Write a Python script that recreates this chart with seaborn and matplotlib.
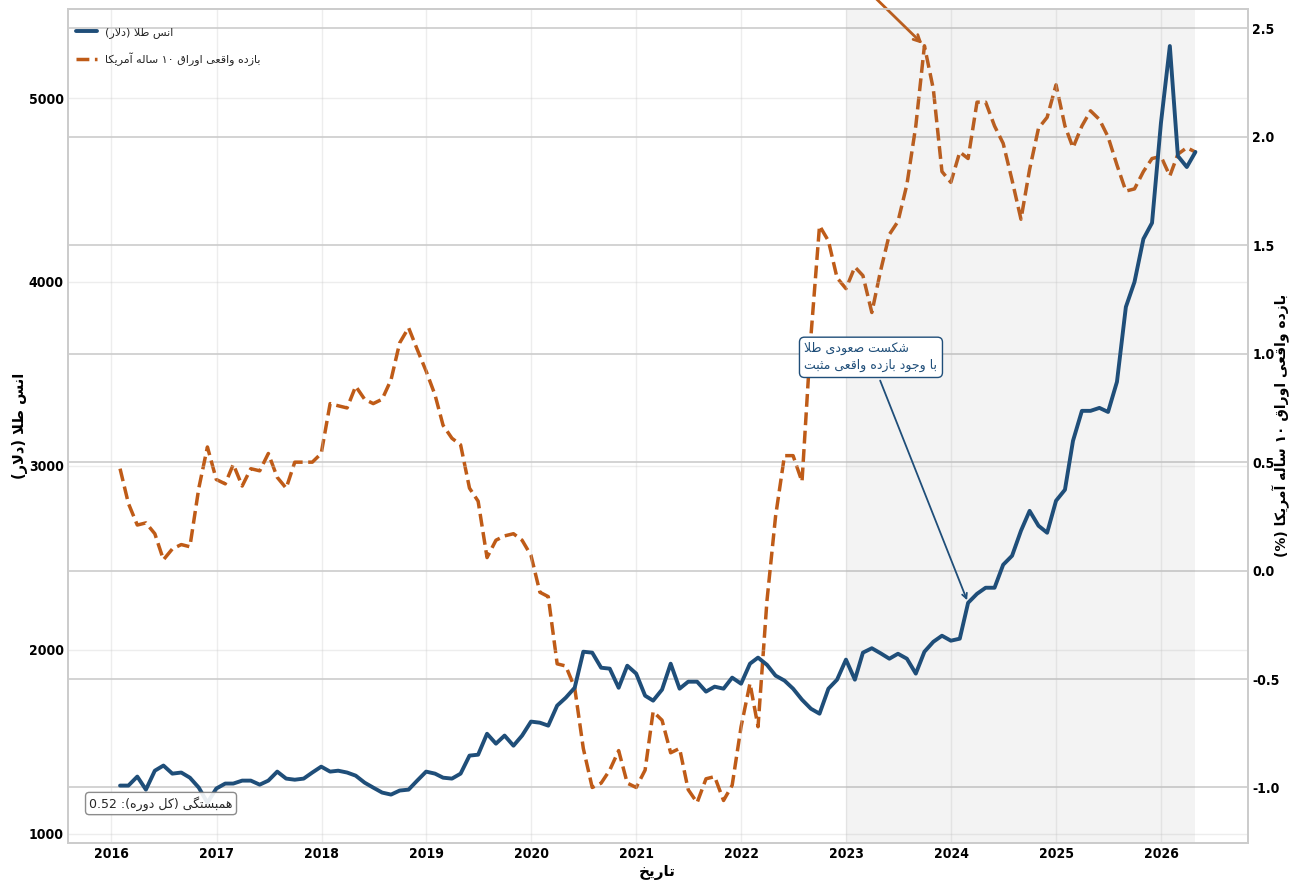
import re
import pandas as pd
import matplotlib
matplotlib.use('Agg')
import matplotlib.pyplot as plt
import matplotlib.dates as mdates
from matplotlib import font_manager
import seaborn as sns

# monthly data, Jan 2016 .. Apr 2026 (month ends)
dates = pd.date_range('2016-01-31', periods=124, freq='ME')

gold_price = [
    1261, 1261, 1310, 1239, 1342, 1370, 1326, 1332, 1304, 1250, 1168, 1245,
    1272, 1272, 1288, 1288, 1266, 1288, 1337, 1299, 1293, 1299, 1332, 1364,
    1337, 1342, 1332, 1315, 1277, 1250, 1223, 1212, 1234, 1239, 1288, 1337,
    1326, 1304, 1299, 1326, 1424, 1429, 1543, 1489, 1533, 1478, 1533, 1609,
    1603, 1587, 1696, 1739, 1793, 1989, 1984, 1902, 1897, 1793, 1913, 1870,
    1750, 1723, 1783, 1924, 1788, 1826, 1826, 1772, 1799, 1788, 1848, 1815,
    1924, 1957, 1918, 1859, 1832, 1788, 1728, 1679, 1652, 1788, 1837, 1946,
    1837, 1984, 2008, 1981, 1951, 1978, 1951, 1870, 1989, 2043, 2076, 2049,
    2060, 2255, 2304, 2337, 2337, 2462, 2511, 2647, 2755, 2674, 2636, 2810,
    2870, 3136, 3299, 3299, 3315, 3293, 3457, 3864, 4000, 4234, 4321, 4864,
    5283, 4685, 4625, 4707,
]

real_yield = [
    0.47, 0.31, 0.21, 0.22, 0.17, 0.05, 0.10, 0.12, 0.11, 0.38, 0.57, 0.42,
    0.40, 0.49, 0.39, 0.47, 0.46, 0.54, 0.43, 0.38, 0.50, 0.50, 0.50, 0.54,
    0.77, 0.76, 0.75, 0.85, 0.79, 0.77, 0.79, 0.88, 1.05, 1.12, 1.02, 0.92,
    0.81, 0.67, 0.61, 0.58, 0.38, 0.32, 0.06, 0.14, 0.16, 0.17, 0.14, 0.07,
    -0.10, -0.12, -0.43, -0.44, -0.54, -0.82, -1.00, -0.98, -0.92, -0.83, -0.98, -1.00,
    -0.92, -0.65, -0.69, -0.84, -0.82, -1.01, -1.07, -0.96, -0.95, -1.06, -0.99, -0.72,
    -0.52, -0.72, -0.14, 0.25, 0.53, 0.53, 0.41, 1.08, 1.59, 1.52, 1.35, 1.30,
    1.40, 1.36, 1.19, 1.38, 1.55, 1.61, 1.78, 2.05, 2.42, 2.22, 1.84, 1.79,
    1.93, 1.90, 2.16, 2.16, 2.05, 1.97, 1.80, 1.62, 1.85, 2.04, 2.09, 2.24,
    2.05, 1.95, 2.05, 2.12, 2.08, 2.00, 1.87, 1.75, 1.76, 1.84, 1.90, 1.91,
    1.82, 1.92, 1.95, 1.93,
]

gold_label = 'انس طلا (دلار)'
yield_label = 'بازده واقعی اوراق ۱۰ ساله آمریکا'
yield_axis_label = 'بازده واقعی اوراق ۱۰ ساله آمریکا (%)'
x_label = 'تاریخ'
breakout_note = 'شکست صعودی طلا\nبا وجود بازده واقعی مثبت'
corr_note = 'همبستگی (کل دوره): 0.52'

gold_color = '#1f4e79'
yield_color = '#bf5b17'

# matplotlib has no arabic shaping -> use presentation forms + reverse for display
JOIN = {
    'آ': (0xFE81, 2), 'ا': (0xFE8D, 2), 'ب': (0xFE8F, 4), 'ت': (0xFE95, 4),
    'ث': (0xFE99, 4), 'ج': (0xFE9D, 4), 'ح': (0xFEA1, 4), 'خ': (0xFEA5, 4),
    'د': (0xFEA9, 2), 'ذ': (0xFEAB, 2), 'ر': (0xFEAD, 2), 'ز': (0xFEAF, 2),
    'س': (0xFEB1, 4), 'ش': (0xFEB5, 4), 'ص': (0xFEB9, 4), 'ض': (0xFEBD, 4),
    'ط': (0xFEC1, 4), 'ظ': (0xFEC5, 4), 'ع': (0xFEC9, 4), 'غ': (0xFECD, 4),
    'ف': (0xFED1, 4), 'ق': (0xFED5, 4), 'ل': (0xFEDD, 4), 'م': (0xFEE1, 4),
    'ن': (0xFEE5, 4), 'ه': (0xFEE9, 4), 'و': (0xFEED, 2), 'ی': (0xFBFC, 4),
    'ک': (0xFB8E, 4), 'گ': (0xFB92, 4), 'پ': (0xFB56, 4), 'چ': (0xFB7A, 4),
    'ژ': (0xFB8A, 2),
}
MIRROR = {'(': ')', ')': '('}


def fa(text):
    out_lines = []
    for line in text.split('\n'):
        shaped = []
        i, n = 0, len(line)
        while i < n:
            c = line[i]
            if c not in JOIN:
                shaped.append(c)
                i += 1
                continue
            prev = line[i - 1] if i > 0 else ''
            join_prev = prev in JOIN and JOIN[prev][1] == 4
            if c == 'ل' and i + 1 < n and line[i + 1] in ('ا', 'آ'):
                base = 0xFEFB if line[i + 1] == 'ا' else 0xFEF5
                shaped.append(chr(base + (1 if join_prev else 0)))
                i += 2
                continue
            nxt = line[i + 1] if i + 1 < n else ''
            base, nforms = JOIN[c]
            join_next = nforms == 4 and nxt in JOIN
            if join_prev and join_next:
                off = 3
            elif join_prev:
                off = 1
            elif join_next:
                off = 2
            else:
                off = 0
            shaped.append(chr(base + off))
            i += 1
        tokens = re.findall(r'[0-9۰-۹]+(?:\.[0-9]+)?|.', ''.join(shaped))
        tokens = [MIRROR.get(t, t) for t in reversed(tokens)]
        out_lines.append(''.join(tokens))
    return '\n'.join(out_lines)


sns.set_theme(style='whitegrid')
plt.rcParams['font.family'] = ['DejaVu Sans']
plt.rcParams['axes.unicode_minus'] = False

# narrow font for the numbers if there is one
cond = [f.fname for f in font_manager.fontManager.ttflist
        if 'DejaVuSansCondensed-Bold' in f.fname]
if cond:
    tick_font = font_manager.FontProperties(fname=cond[0], size=10)
else:
    tick_font = font_manager.FontProperties(family='Liberation Sans', weight='bold', size=10)

fig, ax1 = plt.subplots(figsize=(12.91, 8.89), dpi=100)
fig.subplots_adjust(left=0.0527, right=0.9667, top=0.99, bottom=0.052)
ax2 = ax1.twinx()

# highlight period
ax1.axvspan(pd.Timestamp('2023-01-01'), dates[-1], color='gray', alpha=0.09, lw=0)

sns.lineplot(x=dates, y=real_yield, ax=ax2, color=yield_color, lw=2.5,
             linestyle='--', label=fa(yield_label))
sns.lineplot(x=dates, y=gold_price, ax=ax1, color=gold_color, lw=2.8,
             label=fa(gold_label))

ax1.set_zorder(ax2.get_zorder() + 1)
ax1.patch.set_visible(False)

ax1.set_xlim(pd.Timestamp('2015-08-03'), pd.Timestamp('2026-10-30'))
ax1.set_ylim(950, 5485)
ax2.set_ylim(-1.255, 2.59)

ax1.grid(True, alpha=0.35)
ax2.grid(True, axis='y', color='#cccccc', lw=1.2)
ax1.xaxis.set_major_locator(mdates.YearLocator())
ax1.xaxis.set_major_formatter(mdates.DateFormatter('%Y'))
ax1.tick_params(axis='both', length=0, pad=3)
ax2.tick_params(axis='y', length=0, pad=3)

for lab in ax1.get_xticklabels() + ax1.get_yticklabels() + ax2.get_yticklabels():
    lab.set_fontproperties(tick_font)
    lab.set_color('black')

ax1.set_xlabel(fa(x_label), fontsize=11, fontweight='bold', color='black')
ax1.xaxis.set_label_coords(0.499, -0.027)
ax1.set_ylabel(fa(gold_label), fontsize=10.5, fontweight='bold', color='black')
ax1.yaxis.set_label_coords(-0.041, 0.5)
ax1.yaxis.label.set_verticalalignment('center')
ax2.set_ylabel(fa(yield_axis_label), fontsize=10, fontweight='bold', color='black')
ax2.yaxis.set_label_coords(1.0285, 0.5)
ax2.yaxis.label.set_verticalalignment('center')

# legend with both series
ax2.get_legend().remove()
h1, l1 = ax1.get_legend_handles_labels()
h2, l2 = ax2.get_legend_handles_labels()
ax1.legend(h1 + h2, l1 + l2, loc='upper left', bbox_to_anchor=(0.0, 0.988),
           frameon=False, fontsize=8, borderaxespad=0.3, handlelength=1.9,
           handletextpad=0.7, labelspacing=1.3)

ax1.annotate(fa(breakout_note), xy=(dates[97], gold_price[97]),
             xytext=(pd.Timestamp('2023-03-28'), 3590), ha='center', va='center',
             multialignment='left', fontsize=9, linespacing=1.4, color=gold_color,
             bbox=dict(boxstyle='round,pad=0.4', fc='white', ec=gold_color, lw=1),
             arrowprops=dict(arrowstyle='->', color=gold_color, lw=1.3))

ax2.annotate('', xy=(dates[92], real_yield[92]),
             xytext=(pd.Timestamp('2023-01-10'), 2.76),
             arrowprops=dict(arrowstyle='->', color=yield_color, lw=2),
             annotation_clip=False)

ax1.text(0.018, 0.042, fa(corr_note), transform=ax1.transAxes, fontsize=9,
         bbox=dict(boxstyle='round,pad=0.3', fc='white', ec='gray', alpha=0.9))

plt.savefig('out.png', dpi=100)
